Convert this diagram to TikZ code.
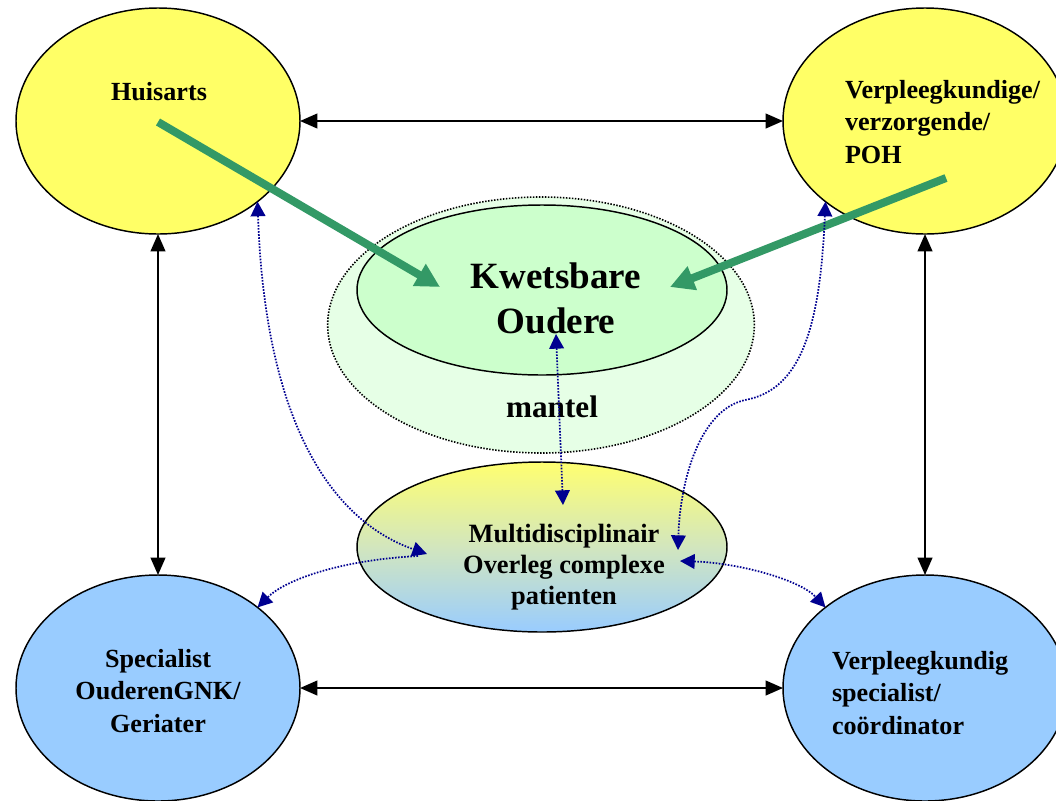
\documentclass[tikz,border=0pt]{standalone}
\usepackage{fontspec}
\setmainfont{Liberation Serif}
\usetikzlibrary{shapes.geometric,arrows.meta}

\definecolor{hyellow}{HTML}{FFFF66}
\definecolor{hblue}{HTML}{99CCFF}
\definecolor{kgreen}{HTML}{CCFFCC}
\definecolor{mgreen}{HTML}{E6FFE6}
\definecolor{agreen}{HTML}{339966}
\definecolor{dnavy}{HTML}{000090}
\definecolor{mdtop}{HTML}{FFFF70}
\definecolor{mdmid}{HTML}{D2E6BE}

\begin{document}
\begin{tikzpicture}[x=0.75pt,y=-0.75pt,
  role/.style={ellipse, draw=black, line width=1.1pt, inner sep=0pt, outer sep=0pt,
    minimum width=213pt, minimum height=169.5pt},
  core/.style={ellipse, draw=black, line width=1.1pt, inner sep=0pt, outer sep=0pt,
    minimum width=277.5pt, minimum height=127.5pt},
  lbl/.style={inner sep=0pt, outer sep=0pt, anchor=base,
    font=\bfseries\fontsize{19.6}{24.4}\selectfont},
  link/.style={line width=1.5pt,
    {Triangle[length=13pt,width=11pt]}-{Triangle[length=13pt,width=11pt]}},
  focus/.style={draw=agreen, line width=6pt, -{Triangle[length=18pt,width=18pt]}},
  talk/.style={draw=dnavy, line width=1.3pt, dash pattern=on 1.2pt off 1.1pt},
  talkboth/.style={talk, {Triangle[length=11pt,width=11pt]}-{Triangle[length=11pt,width=11pt]}},
  talkone/.style={talk, -{Triangle[length=11pt,width=11pt]}}
]
\useasboundingbox (0,0) rectangle (1056,800);
\clip (0,0) rectangle (1056,800);

% central group
\node[ellipse, draw=black, line width=1.2pt, dash pattern=on 1.1pt off 1.15pt,
  fill=mgreen, inner sep=0pt, minimum width=320pt, minimum height=192pt]
  (mantel) at (541,325) {};
\node[core, fill=kgreen] (kw) at (542,290) {};
\node[core, top color=mdtop, bottom color=hblue, middle color=mdmid] (md) at (542,547) {};

% four roles
\node[role, fill=hyellow] (hu) at (158,121) {};
\node[role, fill=hyellow] (vp) at (925,121) {};
\node[role, fill=hblue] (sp) at (158,688) {};
\node[role, fill=hblue] (vs) at (925,688) {};

% direct lines between the roles
\draw[link] (hu.east) -- (vp.west);
\draw[link] (sp.east) -- (vs.west);
\draw[link] (hu.south) -- (sp.north);
\draw[link] (vp.south) -- (vs.north);

% labels
\node[lbl] (thu) at (159,100) {Huisarts};
\node[lbl, anchor=base west] (tvp) at (845,98)
  {\begin{tabular}[t]{@{}l@{}}Verpleegkundige/\\verzorgende/\\POH\end{tabular}};
\node[lbl] (tsp) at (158,667)
  {\begin{tabular}[t]{@{}c@{}}Specialist\\OuderenGNK/\\Geriater\end{tabular}};
\node[lbl, anchor=base west] (tvs) at (832,669)
  {\begin{tabular}[t]{@{}l@{}}Verpleegkundig\\specialist/\\co\"ordinator\end{tabular}};
\node[lbl, font=\bfseries\fontsize{27.8}{33.75}\selectfont] (tkw) at (556,288)
  {\begin{tabular}[t]{@{}c@{}}Kwetsbare\\Oudere\end{tabular}};
\node[lbl, font=\bfseries\fontsize{23.4}{28}\selectfont] (tmantel) at (552,417) {mantel};
\node[lbl, font=\bfseries\fontsize{19.8}{23.6}\selectfont] (tmd) at (564,542)
  {\begin{tabular}[t]{@{}c@{}}Multidisciplinair\\Overleg complexe\\patienten\end{tabular}};

% care focus arrows
\coordinate (g1) at (158,122);
\coordinate (g1e) at (440,287);
\coordinate (g2) at (946,178);
\coordinate (g2e) at (670,287);
\draw[focus] (g1) -- (g1e);
\draw[focus] (g2) -- (g2e);

% consultation lines
\coordinate (md1) at (427,554);
\coordinate (md4) at (418,556);
\coordinate (kw3) at (556,334);
\coordinate (md3) at (563,505);
\coordinate (md2) at (678,550);
\coordinate (md5) at (680,561);
\draw[talkboth] (hu.-39) .. controls (265,420) and (330,520) .. (md1);
\draw[talkone] (md4) .. controls (340,560) and (285,580) .. (sp.39);
\draw[talkboth] (kw3) -- (md3);
\draw[talkboth] (vp.-141) .. controls (820,330) and (800,390) .. (745,400)
  .. controls (700,410) and (680,480) .. (md2);
\draw[talkboth] (md5) .. controls (740,563) and (800,580) .. (vs.141);
\end{tikzpicture}
\end{document}
